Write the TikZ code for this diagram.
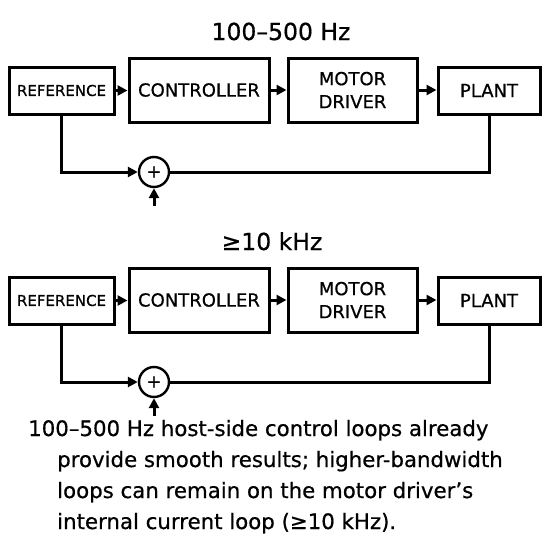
\documentclass[tikz,border=0pt]{standalone}
\usepackage{fontspec}
\setmainfont[FakeBold=0.6]{DejaVu Sans}
\usetikzlibrary{arrows.meta}
\tikzset{
  blk/.style={draw, line width=3pt, inner sep=0pt, align=center, font=\fontsize{18}{23}\selectfont},
  smallblk/.style={blk, font=\fontsize{15}{18}\selectfont},
  sumnode/.style={draw, circle, line width=2.4pt, minimum size=30pt, inner sep=0pt, font=\fontsize{18}{18}\selectfont},
  conn/.style={line width=3pt, -{Triangle[length=10pt,width=10pt]}},
  wire/.style={line width=3pt},
  ttl/.style={font=\fontsize{23.5}{26}\selectfont, anchor=base},
  captxt/.style={font=\fontsize{21.3}{26}\selectfont, anchor=base west, inner sep=0pt}
}
\begin{document}
\begin{tikzpicture}[x=1pt,y=-1pt]
\useasboundingbox (0,0) rectangle (555,555);
\fill[white] (0,0) rectangle (555,555);
\foreach \d/\oy/\t/\tx in {a/0/{100–500 Hz}/281, b/210/{≥10 kHz}/272}{
  \node[ttl] (t\d) at (\tx,40+\oy) {\t};
  \node[smallblk, minimum width=105pt, minimum height=47pt] (ref\d) at (61.5,90.5+\oy) {REFERENCE};
  \node[blk, minimum width=140pt, minimum height=64pt] (ctl\d) at (199,90+\oy) {CONTROLLER};
  \node[blk, minimum width=129pt, minimum height=64pt] (md\d) at (352.5,90+\oy) {MOTOR\\DRIVER};
  \node[blk, minimum width=102pt, minimum height=47pt] (pl\d) at (489,90.5+\oy) {PLANT};
  \node[sumnode] (s\d) at (154,172+\oy) {+};
  \coordinate (in\d) at (154,206+\oy);
  \draw[conn] (ref\d.east) -- (ref\d.east -| ctl\d.west);
  \draw[conn] (ctl\d.east) -- (ctl\d.east -| md\d.west);
  \draw[conn] (md\d.east) -- (md\d.east -| pl\d.west);
  \draw[conn] (ref\d.south) |- (s\d.west);
  \draw[wire] (pl\d.south) |- (s\d.east);
  \draw[conn] (in\d) -- (s\d.south);
}
\node[captxt] (c1) at (28,436) {100–500 Hz host-side control loops already};
\node[captxt] (c2) at (57,467) {provide smooth results; higher-bandwidth};
\node[captxt] (c3) at (57,498) {loops can remain on the motor driver’s};
\node[captxt] (c4) at (57,529) {internal current loop (≥10 kHz).};
\end{tikzpicture}
\end{document}
